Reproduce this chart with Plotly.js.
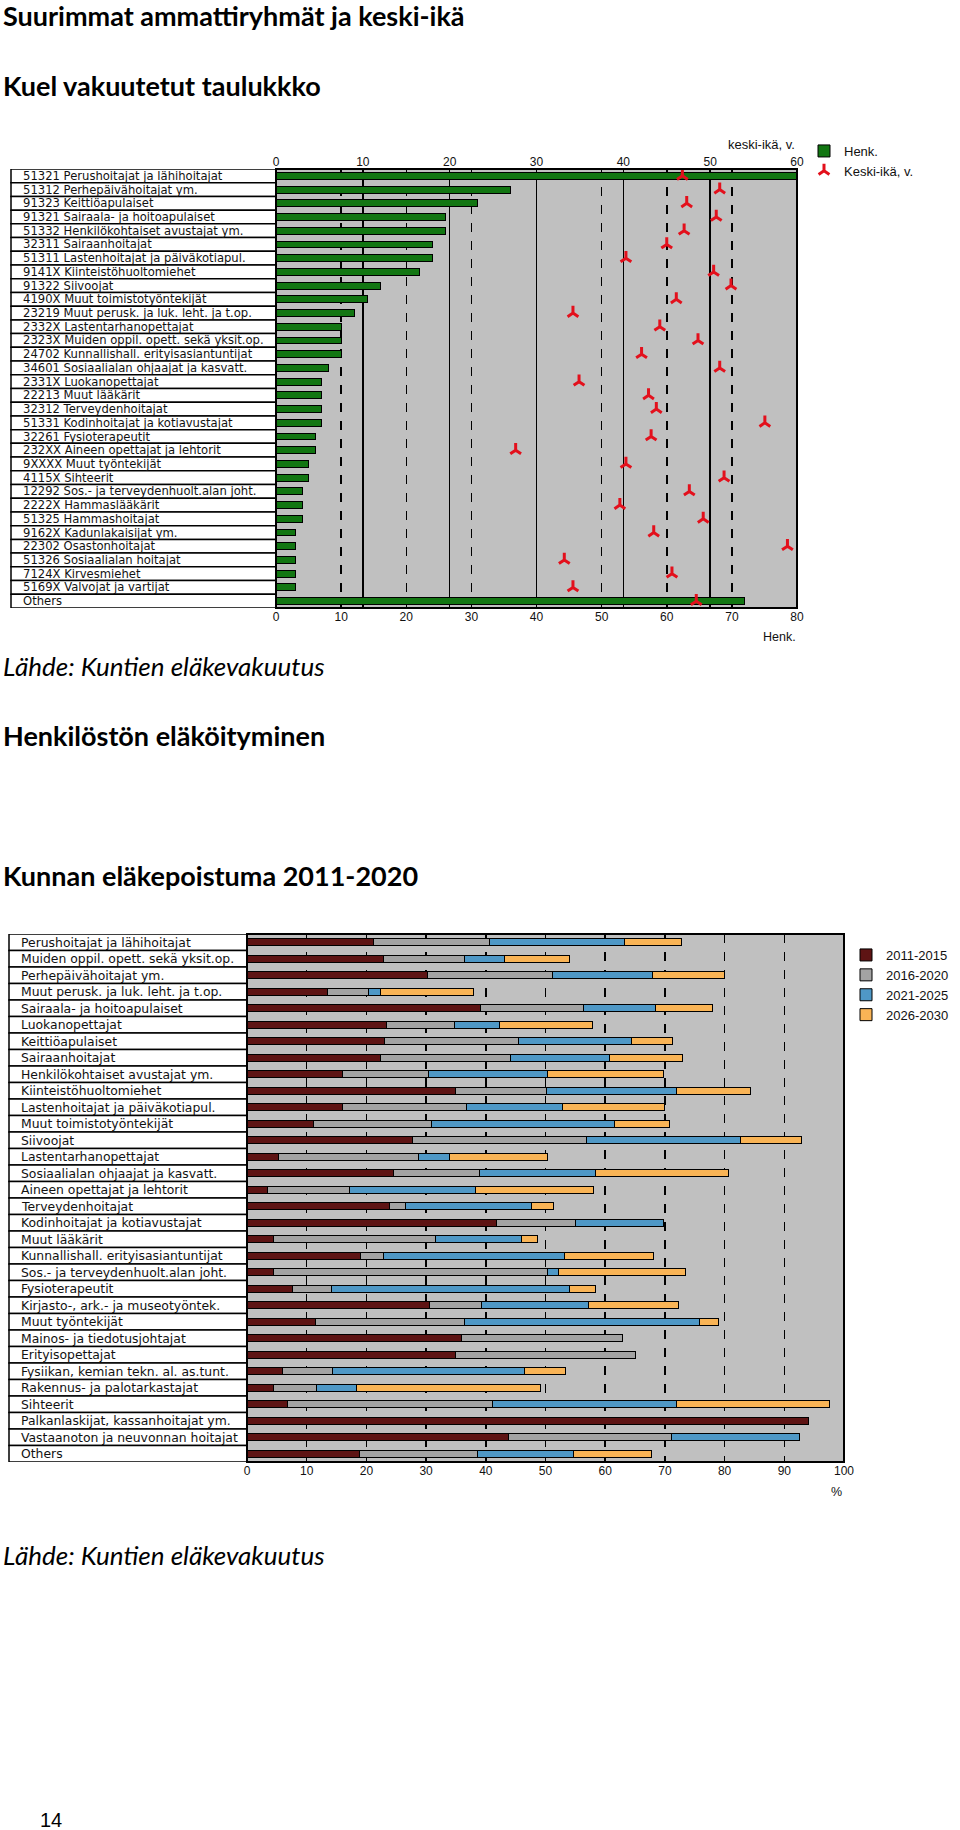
<!DOCTYPE html>
<html><head><meta charset="utf-8">
<script src="https://cdn.plot.ly/plotly-3.0.1.min.js"></script>
<style>html,body{margin:0;padding:0;background:#fff}#chart{width:960px;height:1830px}</style>
</head><body><div id="chart"></div>
<script>
// ---------- data: chart 1 ----------
const topLabels = [
  "51321 Perushoitajat ja lähihoitajat","51312 Perhepäivähoitajat ym.","91323 Keittiöapulaiset",
  "91321 Sairaala- ja hoitoapulaiset","51332 Henkilökohtaiset avustajat ym.","32311 Sairaanhoitajat",
  "51311 Lastenhoitajat ja päiväkotiapul.","9141X Kiinteistöhuoltomiehet","91322 Siivoojat",
  "4190X Muut toimistotyöntekijät","23219 Muut perusk. ja luk. leht. ja t.op.","2332X Lastentarhanopettajat",
  "2323X Muiden oppil. opett. sekä yksit.op.","24702 Kunnallishall. erityisasiantuntijat",
  "34601 Sosiaalialan ohjaajat ja kasvatt.","2331X Luokanopettajat","22213 Muut lääkärit",
  "32312 Terveydenhoitajat","51331 Kodinhoitajat ja kotiavustajat","32261 Fysioterapeutit",
  "232XX Aineen opettajat ja lehtorit","9XXXX Muut työntekijät","4115X Sihteerit",
  "12292 Sos.- ja terveydenhuolt.alan joht.","2222X Hammaslääkärit","51325 Hammashoitajat",
  "9162X Kadunlakaisijat ym.","22302 Osastonhoitajat","51326 Sosiaalialan hoitajat",
  "7124X Kirvesmiehet","5169X Valvojat ja vartijat","Others"];
const henk = [90,36,31,26,26,24,24,22,16,14,12,10,10,10,8,7,7,7,7,6,6,5,5,4,4,4,3,3,3,3,3,72];
const keskiIka = [46.8,51.1,47.3,50.7,47.0,45.0,40.3,50.4,52.4,46.1,34.2,44.2,48.6,42.1,51.1,34.9,
  42.9,43.8,56.3,43.2,27.6,40.3,51.6,47.6,39.6,49.2,43.5,58.9,33.2,45.6,34.2,48.4];
const henkTicks = [0,10,20,30,40,50,60,70,80];
const ikaTicks = [0,10,20,30,40,50,60];

// ---------- data: chart 2 ----------
const botLabels = [
  "Perushoitajat ja lähihoitajat","Muiden oppil. opett. sekä yksit.op.","Perhepäivähoitajat ym.",
  "Muut perusk. ja luk. leht. ja t.op.","Sairaala- ja hoitoapulaiset","Luokanopettajat",
  "Keittiöapulaiset","Sairaanhoitajat","Henkilökohtaiset avustajat ym.","Kiinteistöhuoltomiehet",
  "Lastenhoitajat ja päiväkotiapul.","Muut toimistotyöntekijät","Siivoojat","Lastentarhanopettajat",
  "Sosiaalialan ohjaajat ja kasvatt.","Aineen opettajat ja lehtorit","Terveydenhoitajat",
  "Kodinhoitajat ja kotiavustajat","Muut lääkärit","Kunnallishall. erityisasiantuntijat",
  "Sos.- ja terveydenhuolt.alan joht.","Fysioterapeutit","Kirjasto-, ark.- ja museotyöntek.",
  "Muut työntekijät","Mainos- ja tiedotusjohtajat","Erityisopettajat",
  "Fysiikan, kemian tekn. al. as.tunt.","Rakennus- ja palotarkastajat","Sihteerit",
  "Palkanlaskijat, kassanhoitajat ym.","Vastaanoton ja neuvonnan hoitajat","Others"];
const p2011 = [21.2,22.8,30.3,13.5,39.1,23.3,23.0,22.4,16.0,35.0,16.0,11.1,27.8,5.3,24.5,3.5,23.9,41.8,4.5,19.0,4.5,7.6,30.5,11.4,36.0,35.0,5.9,4.5,6.8,94.0,43.8,18.8];
const p2016 = [19.5,13.7,20.9,6.9,17.2,11.4,22.5,21.7,14.4,15.1,20.8,19.8,29.1,23.4,14.5,13.6,2.6,13.3,27.1,3.8,45.8,6.6,8.8,25.0,26.9,30.1,8.5,7.1,34.3,0,27.3,19.8];
const p2021 = [22.6,6.6,16.8,2.0,12.1,7.6,18.9,16.6,19.9,21.8,16.0,30.6,25.8,5.2,19.3,21.1,21.2,14.7,14.3,30.4,1.8,39.9,17.9,39.4,0,0,32.0,6.8,30.8,0,21.5,16.1];
const p2026 = [9.5,11.0,11.9,15.5,9.6,15.5,6.9,12.3,19.5,12.5,17.1,9.3,10.1,16.5,22.3,19.9,3.7,0,2.7,14.9,21.4,4.2,15.0,3.2,0,0,7.0,30.8,25.6,0,0,13.1];
const periods = ["2011-2015","2016-2020","2021-2025","2026-2030"];
const pctTicks = [0,10,20,30,40,50,60,70,80,90,100];

// ---------- helpers ----------
const W = 960, H = 1830;
const px = v => v / W;
const py = v => 1 - v / H;
const idxTop = topLabels.map((_, i) => i);
const idxBot = botLabels.map((_, i) => i);
const TICKFONT = {family: "Liberation Sans, Arial, sans-serif", size: 12, color: "#111"};

const traces = [
  {type: "bar", orientation: "h", name: "Henk.", x: henk, y: idxTop, xaxis: "x", yaxis: "y",
   width: 0.5, marker: {color: "#127612", line: {color: "#000", width: 1}}, legend: "legend"},
  {type: "scatter", mode: "markers", name: "Keski-ikä, v.", x: keskiIka, y: idxTop, xaxis: "x2", yaxis: "y",
   marker: {symbol: "y-up", size: 9, color: "#e3101c", line: {color: "#e3101c", width: 3}}, legend: "legend"}
];
const segColors = ["#5e1414", "#a3a3a3", "#4f98c6", "#f9b456"];
[p2011, p2016, p2021, p2026].forEach((arr, k) => {
  traces.push({type: "bar", orientation: "h", name: periods[k], x: arr, y: idxBot, xaxis: "x3", yaxis: "y3",
    width: 0.42, marker: {color: segColors[k], line: {color: "#000", width: 1}}, legend: "legend2"});
});

const shapes = [];
const annotations = [];
topLabels.forEach((t, i) => {
  shapes.push({type: "rect", xref: "paper", yref: "y", x0: px(11), x1: px(276), y0: i - 0.5, y1: i + 0.5,
    fillcolor: "#fff", line: {color: "#000", width: 1.5}, layer: "below"});
  annotations.push({text: t, xref: "paper", yref: "y", x: px(21), y: i, xanchor: "left", yanchor: "middle",
    showarrow: false, font: {family: "DejaVu Sans", size: 11.6, color: "#111"}});
});
botLabels.forEach((t, i) => {
  shapes.push({type: "rect", xref: "paper", yref: "y3", x0: px(9), x1: px(247), y0: i - 0.5, y1: i + 0.5,
    fillcolor: "#fff", line: {color: "#000", width: 1.5}, layer: "below"});
  annotations.push({text: t, xref: "paper", yref: "y3", x: px(19), y: i, xanchor: "left", yanchor: "middle",
    showarrow: false, font: {family: "DejaVu Sans", size: 12.4, color: "#111"}});
});
shapes.push({type: "rect", xref: "x domain", yref: "y domain", x0: 0, x1: 1, y0: 0, y1: 1, line: {color: "#000", width: 2}});
shapes.push({type: "rect", xref: "x3 domain", yref: "y3 domain", x0: 0, x1: 1, y0: 0, y1: 1, line: {color: "#000", width: 2}});

const HFONT = {family: "Lato, Open Sans, sans-serif", size: 27, color: "#000", weight: 700};
const IFONT = {family: "Lato, Open Sans, sans-serif", size: 26, color: "#000", style: "italic"};
function txt(text, x, y, font, xanchor) {
  annotations.push({text, xref: "paper", yref: "paper", x: px(x), y: py(y), xanchor: xanchor || "left",
    yanchor: "middle", showarrow: false, font});
}
txt("Suurimmat ammattiryhmät ja keski-ikä", 1, 15, HFONT);
txt("Kuel vakuutetut taulukkko", 1, 85, HFONT);
txt("Lähde: Kuntien eläkevakuutus", 1, 666, IFONT);
txt("Henkilöstön eläköityminen", 1, 736, HFONT);
txt("Kunnan eläkepoistuma 2011-2020", 1, 875, HFONT);
txt("Lähde: Kuntien eläkevakuutus", 1, 1555, IFONT);
txt("14", 38, 1820, {family: "Liberation Sans", size: 20, color: "#000"});
txt("keski-ikä, v.", 761, 145, {family: "Liberation Sans", size: 13, color: "#111"}, "center");
txt("Henk.", 779, 637, {family: "Liberation Sans", size: 12.5, color: "#111"}, "center");
txt("%", 836, 1492, {family: "Liberation Sans", size: 12.5, color: "#111"}, "center");

const layout = {
  width: W, height: H, margin: {l: 0, r: 0, t: 0, b: 0}, paper_bgcolor: "#fff", plot_bgcolor: "#c0c0c0",
  barmode: "stack", showlegend: true, hovermode: false,
  xaxis: {domain: [px(276), px(797)], anchor: "y", range: [0, 80], tickvals: henkTicks, side: "bottom",
    showgrid: true, gridcolor: "#000", griddash: "dash", gridwidth: 1.5, zeroline: false, ticks: "",
    tickfont: TICKFONT},
  xaxis2: {overlaying: "x", anchor: "y", side: "top", range: [0, 60], tickvals: ikaTicks,
    showgrid: true, gridcolor: "#000", gridwidth: 1.5, zeroline: false, ticks: "", tickfont: TICKFONT},
  yaxis: {domain: [py(608), py(169)], anchor: "x", range: [31.5, -0.5], showticklabels: false,
    showgrid: false, zeroline: false, ticks: ""},
  xaxis3: {domain: [px(247), px(844)], anchor: "y3", range: [0, 100], tickvals: pctTicks,
    showgrid: true, gridcolor: "#000", griddash: "dash", gridwidth: 1.5, zeroline: false, ticks: "", tickfont: TICKFONT},
  yaxis3: {domain: [py(1462), py(934)], anchor: "x3", range: [31.5, -0.5], showticklabels: false,
    showgrid: false, zeroline: false, ticks: ""},
  legend: {x: px(804), y: py(136), xanchor: "left", yanchor: "top", bgcolor: "rgba(0,0,0,0)",
    font: {family: "Liberation Sans", size: 13, color: "#111"}, tracegroupgap: 0, itemwidth: 30, traceorder: "normal"},
  legend2: {x: px(846), y: py(940), xanchor: "left", yanchor: "top", bgcolor: "rgba(0,0,0,0)",
    font: {family: "Liberation Sans", size: 13, color: "#111"}, tracegroupgap: 0, itemwidth: 30, traceorder: "normal"},
  shapes, annotations
};
Plotly.newPlot("chart", traces, layout, {staticPlot: true});
</script></body></html>
